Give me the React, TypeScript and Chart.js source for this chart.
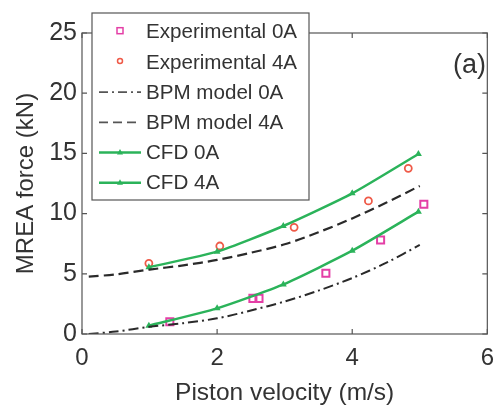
import React, { useEffect, useRef } from "react";
import { Chart, registerables } from "chart.js";

Chart.register(...registerables);

const expVel0A = [1.3, 2.53, 2.62, 3.61, 4.42, 5.06];
const expForce0A = [1.02, 2.96, 2.96, 5.04, 7.81, 10.77];
const expVel4A = [0.99, 2.04, 3.14, 4.24, 4.83];
const expForce4A = [5.87, 7.31, 8.86, 11.05, 13.76];
const bpmVel = [0.1, 0.5, 1, 1.5, 2, 2.5, 3, 3.5, 4, 4.5, 5];
const bpmForce0A = [0.0, 0.2, 0.6, 0.9, 1.3, 1.95, 2.7, 3.6, 4.65, 5.9, 7.4];
const bpmForce4A = [4.76, 4.95, 5.35, 5.7, 6.15, 6.75, 7.45, 8.45, 9.6, 10.9, 12.3];
const cfdVel = [0.99, 2.0, 2.98, 4.0, 4.98];
const cfdForce0A = [0.69, 2.13, 4.12, 6.92, 10.16];
const cfdForce4A = [5.54, 6.84, 8.97, 11.68, 14.95];
const xTicks = [0, 2, 4, 6];
const yTicks = [0, 5, 10, 15, 20, 25];
const legendLabels = [
  "Experimental 0A",
  "Experimental 4A",
  "BPM model 0A",
  "BPM model 4A",
  "CFD 0A",
  "CFD 4A",
];

const FONT = "'Liberation Sans', Arial, Helvetica, sans-serif";
const TEXT = "#333333";
const GREEN = "#2bb35a";
const RED = "#ef5a48";
const MAGENTA = "#e43fa6";
const BLACK = "#2a2a2a";
const FRAME = "#555555";

const pts = (xs: number[], ys: number[]) => xs.map((x, i) => ({ x, y: ys[i] }));

const framePlugin = {
  id: "frameAndLegend",
  afterDatasetsDraw(chart: any) {
    const { ctx, chartArea, scales } = chart;
    const { left, right, top, bottom } = chartArea;
    ctx.save();
    ctx.strokeStyle = FRAME;
    ctx.lineWidth = 1.2;
    ctx.setLineDash([]);
    ctx.strokeRect(left, top, right - left, bottom - top);
    const tl = 5;
    xTicks.forEach((v) => {
      const px = scales.x.getPixelForValue(v);
      ctx.beginPath();
      ctx.moveTo(px, bottom);
      ctx.lineTo(px, bottom - tl);
      ctx.moveTo(px, top);
      ctx.lineTo(px, top + tl);
      ctx.stroke();
    });
    yTicks.forEach((v) => {
      const py = scales.y.getPixelForValue(v);
      ctx.beginPath();
      ctx.moveTo(left, py);
      ctx.lineTo(left + tl, py);
      ctx.moveTo(right, py);
      ctx.lineTo(right - tl, py);
      ctx.stroke();
    });

    // "(a)" label
    ctx.fillStyle = TEXT;
    ctx.font = `27px ${FONT}`;
    ctx.textAlign = "right";
    ctx.textBaseline = "middle";
    ctx.fillText("(a)", 486, 66);

    // Legend box
    const bx = 92, by = 13, bw = 217, bh = 187;
    ctx.fillStyle = "#ffffff";
    ctx.fillRect(bx, by, bw, bh);
    ctx.strokeStyle = FRAME;
    ctx.lineWidth = 1.2;
    ctx.strokeRect(bx, by, bw, bh);

    const rowY0 = 31.7;
    const rowGap = 30.2;
    const sx1 = 99, sx2 = 141, mx = 120, tx = 146;
    ctx.font = `20.6px ${FONT}`;
    ctx.textAlign = "left";
    ctx.textBaseline = "middle";
    legendLabels.forEach((lab, i) => {
      const y = rowY0 + i * rowGap;
      ctx.save();
      if (i === 0) {
        ctx.strokeStyle = MAGENTA;
        ctx.lineWidth = 1.5;
        ctx.strokeRect(mx - 3, y - 4, 6, 6);
      } else if (i === 1) {
        ctx.strokeStyle = RED;
        ctx.lineWidth = 1.5;
        ctx.beginPath();
        ctx.arc(mx, y - 1, 2.5, 0, Math.PI * 2);
        ctx.stroke();
      } else if (i === 2 || i === 3) {
        ctx.strokeStyle = "#555555";
        ctx.lineWidth = 1.8;
        ctx.setLineDash(i === 2 ? [9, 4, 2, 4] : [9, 5]);
        ctx.beginPath();
        ctx.moveTo(sx1, y);
        ctx.lineTo(sx2, y);
        ctx.stroke();
      } else {
        ctx.strokeStyle = GREEN;
        ctx.fillStyle = GREEN;
        ctx.lineWidth = 2.5;
        ctx.beginPath();
        ctx.moveTo(sx1, y);
        ctx.lineTo(sx2, y);
        ctx.stroke();
        ctx.beginPath();
        ctx.moveTo(mx, y - 3.5);
        ctx.lineTo(mx + 3, y + 2);
        ctx.lineTo(mx - 3, y + 2);
        ctx.closePath();
        ctx.fill();
      }
      ctx.restore();
      ctx.fillStyle = TEXT;
      ctx.fillText(lab, tx, y + 1);
    });
    ctx.restore();
  },
};

export default function App() {
  const ref = useRef<HTMLCanvasElement>(null);
  useEffect(() => {
    if (!ref.current) return;
    const chart = new Chart(ref.current, {
      type: "line",
      data: {
        datasets: [
          {
            label: "BPM model 0A",
            data: pts(bpmVel, bpmForce0A),
            borderColor: BLACK,
            borderWidth: 2,
            borderDash: [10, 4, 2, 4],
            pointRadius: 0,
            tension: 0.3,
            fill: false,
          },
          {
            label: "BPM model 4A",
            data: pts(bpmVel, bpmForce4A),
            borderColor: BLACK,
            borderWidth: 2.2,
            borderDash: [10, 5],
            pointRadius: 0,
            tension: 0.3,
            fill: false,
          },
          {
            label: "CFD 0A",
            data: pts(cfdVel, cfdForce0A),
            borderColor: GREEN,
            backgroundColor: GREEN,
            borderWidth: 2.5,
            pointStyle: "triangle",
            pointRadius: 4,
            pointBorderWidth: 0,
            tension: 0.2,
            fill: false,
          },
          {
            label: "CFD 4A",
            data: pts(cfdVel, cfdForce4A),
            borderColor: GREEN,
            backgroundColor: GREEN,
            borderWidth: 2.5,
            pointStyle: "triangle",
            pointRadius: 4,
            pointBorderWidth: 0,
            tension: 0.2,
            fill: false,
          },
          {
            label: "Experimental 0A",
            data: pts(expVel0A, expForce0A),
            showLine: false,
            borderColor: MAGENTA,
            backgroundColor: "rgba(255,255,255,0)",
            pointStyle: "rect",
            pointRadius: 5,
            pointBorderWidth: 2,
          },
          {
            label: "Experimental 4A",
            data: pts(expVel4A, expForce4A),
            showLine: false,
            borderColor: RED,
            backgroundColor: "rgba(255,255,255,0)",
            pointStyle: "circle",
            pointRadius: 3.5,
            pointBorderWidth: 1.8,
          },
        ],
      },
      options: {
        animation: false,
        responsive: false,
        maintainAspectRatio: false,
        layout: { padding: { left: 0, right: 7, top: 33, bottom: 0 } },
        plugins: {
          legend: { display: false },
          tooltip: { enabled: false },
        },
        scales: {
          x: {
            type: "linear",
            min: 0,
            max: 6,
            afterBuildTicks: (s: any) => {
              s.ticks = xTicks.map((v) => ({ value: v }));
            },
            afterFit: (s: any) => {
              s.height = 74;
            },
            grid: { display: false, drawTicks: false },
            border: { display: false },
            ticks: {
              color: TEXT,
              font: { family: FONT, size: 24 },
              padding: 10,
              maxRotation: 0,
            },
            title: {
              display: true,
              text: "Piston velocity (m/s)",
              color: TEXT,
              font: { family: FONT, size: 24.5 },
              padding: { top: 0, bottom: 0 },
            },
          },
          y: {
            type: "linear",
            min: 0,
            max: 25,
            afterBuildTicks: (s: any) => {
              s.ticks = yTicks.map((v) => ({ value: v }));
            },
            afterFit: (s: any) => {
              s.width = 82;
            },
            grid: { display: false, drawTicks: false },
            border: { display: false },
            ticks: {
              color: TEXT,
              font: { family: FONT, size: 25 },
              padding: 5,
            },
            title: {
              display: true,
              text: "MREA force (kN)",
              color: TEXT,
              font: { family: FONT, size: 24 },
              padding: { top: 12, bottom: 0 },
            },
          },
        },
      },
      plugins: [framePlugin],
    });
    return () => chart.destroy();
  }, []);
  return (
    <div style={{ position: "fixed", left: 0, top: 0, width: 504, height: 408, background: "#fff" }}>
      <canvas ref={ref} width={504} height={408} style={{ display: "block", width: 504, height: 408 }} />
    </div>
  );
}
